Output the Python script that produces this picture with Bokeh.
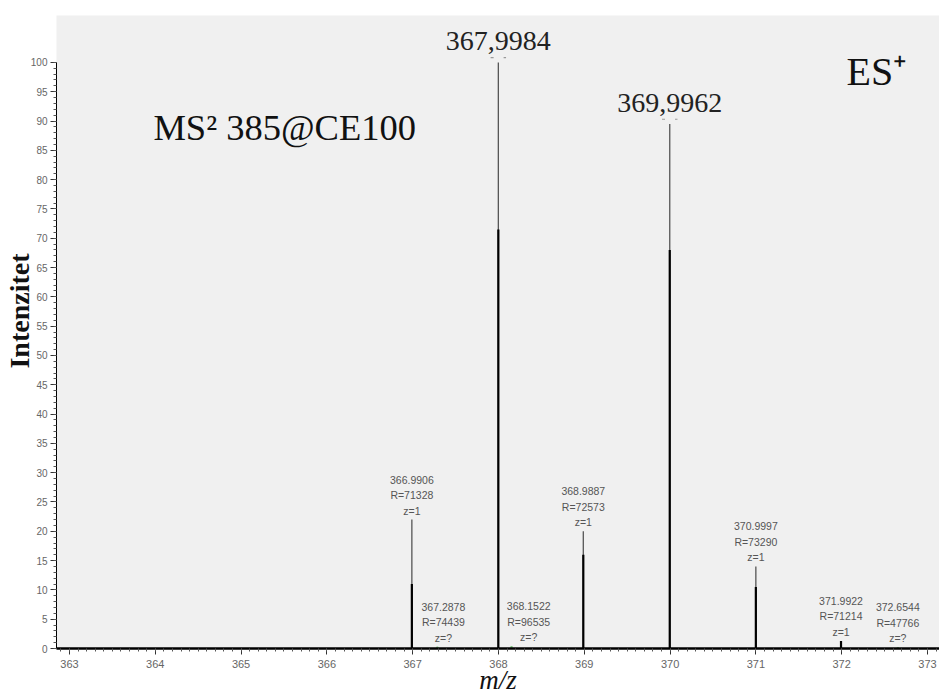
from bokeh.plotting import figure
from bokeh.models import Range1d, SingleIntervalTicker, FixedTicker, ColumnDataSource
from bokeh.core.properties import value
from bokeh.embed import file_html
from bokeh.resources import INLINE

# ---------------- data ----------------
major_mz = [367.9984, 369.9962]
major_int = [100.0, 89.5]
major_profile = [71.5, 68.0]
major_labels = ["367,9984", "369,9962"]

ann_mz = [366.9906, 367.2878, 368.1522, 368.9887, 370.9997, 371.9922, 372.6544]
ann_int = [22.0, 0.3, 0.4, 20.0, 14.0, 1.3, 0.2]
ann_profile = [11.0, 0.3, 0.4, 16.0, 10.5, 1.3, 0.2]
ann_labels = ["366.9906", "367.2878", "368.1522", "368.9887", "370.9997", "371.9922", "372.6544"]
ann_R = [71328, 74439, 96535, 72573, 73290, 71214, 47766]
ann_z = ["1", "?", "?", "1", "1", "1", "?"]

y_major_ticks = list(range(0, 101, 5))
y_minor_ticks = list(range(0, 101, 1))

# ---------------- layout / style ----------------
ann_label_dx = [0, 0.07, 0.2, 0, 0, 0, 0]   # label shift (m/z units) to avoid overlapping lines
W, H = 939, 697
X0, X1 = 362.849, 373.14
Y0, Y1 = 0.0, 108.0
FRAME_L, FRAME_T, FRAME_B = 55, 15, 648


def px_x(px):
    return X0 + (px - FRAME_L) * (X1 - X0) / (W - FRAME_L)


def px_y(py):
    return Y0 + (FRAME_B - py) * (Y1 - Y0) / (FRAME_B - FRAME_T)


p = figure(width=W, height=H, output_backend="svg", toolbar_location=None,
           x_range=Range1d(X0, X1), y_range=Range1d(Y0, Y1),
           min_border_left=FRAME_L, min_border_right=0,
           min_border_top=FRAME_T, min_border_bottom=H - FRAME_B)
p.background_fill_color = "#f0f0f0"
p.border_fill_color = "white"
p.outline_line_color = None
p.xgrid.visible = False
p.ygrid.visible = False

p.xaxis.ticker = SingleIntervalTicker(interval=1, num_minor_ticks=10)
p.yaxis.ticker = FixedTicker(ticks=y_major_ticks, minor_ticks=y_minor_ticks)
p.yaxis.bounds = (0, 100)
for ax in (p.xaxis[0], p.yaxis[0]):
    ax.axis_line_color = "black"
    ax.major_tick_line_color = "#333333"
    ax.minor_tick_line_color = "#555555"
    ax.major_tick_out = 6
    ax.major_tick_in = 0
    ax.minor_tick_out = 3
    ax.minor_tick_in = 0
    ax.major_label_text_font = "Liberation Sans"
    ax.major_label_text_color = "#666666"
    ax.axis_label_text_font = "Liberation Serif"
    ax.axis_label_text_color = "#111111"
p.xaxis.axis_line_width = 2.5
p.xaxis.major_label_text_font_size = "11px"
p.xaxis.major_label_standoff = 5
p.yaxis.major_label_text_font_size = "10px"
p.yaxis.major_label_standoff = 3

p.xaxis.axis_label = "m/z"
p.xaxis.axis_label_text_font_style = "italic"
p.xaxis.axis_label_text_font_size = "27px"
p.xaxis.axis_label_standoff = -6
# leading no-break spaces move the (centred, bottom-to-top) title up, as in the original
p.yaxis.axis_label = "\u00a0" * 6 + "Intenzitet"
p.yaxis.axis_label_text_font_style = "bold"
p.yaxis.axis_label_text_font_size = "28px"
p.yaxis.axis_label_standoff = -7

# ---------------- peaks ----------------
peak_color = ["#7cc47c" if z == "?" else "#555555" for z in ann_z]
prof_color = ["#7cc47c" if z == "?" else "black" for z in ann_z]
asrc = ColumnDataSource(dict(x=ann_mz, top=ann_int, prof=ann_profile, zero=[0.0] * len(ann_mz),
                             xt=[m + d for m, d in zip(ann_mz, ann_label_dx)],
                             c=peak_color, pc=prof_color, mz=ann_labels,
                             r=["R=%d" % r for r in ann_R], z=["z=" + z for z in ann_z]))
msrc = ColumnDataSource(dict(x=major_mz, top=major_int, prof=major_profile, zero=[0.0] * len(major_mz),
                             lab=major_labels,
                             xl=[m - 0.09 for m in major_mz], xr=[m + 0.09 for m in major_mz],
                             ym=[v + 0.8 for v in major_int]))

p.segment(x0="x", y0="zero", x1="x", y1="top", line_color="#555555", line_width=1.3, source=msrc)
p.segment(x0="x", y0="zero", x1="x", y1="prof", line_color="black", line_width=2.2, source=msrc)
p.segment(x0="xl", y0="ym", x1="xr", y1="ym", line_color="#999999", line_width=1.2,
          line_dash="3 10", source=msrc)
p.segment(x0="x", y0="zero", x1="x", y1="top", line_color="c", line_width=1.3, source=asrc)
p.segment(x0="x", y0="zero", x1="x", y1="prof", line_color="pc", line_width=2.2, source=asrc)

# peak annotations
for col, off in (("z", -9), ("r", -24.5), ("mz", -40)):
    p.text(x="xt", y="top", text=col, y_offset=off, text_align="center", text_baseline="middle",
           text_font=value("Liberation Sans"), text_font_size="10.5px", text_color="#555555",
           source=asrc)

p.text(x="x", y="top", text="lab", y_offset=-21, text_align="center", text_baseline="alphabetic",
       text_font=value("Liberation Serif"), text_font_size="28px", text_color="#222222", source=msrc)

# ---------------- in-plot titles ----------------
p.text(x=[px_x(152)], y=[px_y(127)], text=["MS² 385@CE100"], text_font=value("Liberation Serif"),
       text_font_size="36.5px", text_color="#111111", text_align="left", text_baseline="alphabetic")
p.text(x=[px_x(846)], y=[px_y(71)], text=["ES⁺"], text_font=value("Liberation Serif"),
       text_font_size="40px", text_color="#111111", text_align="left", text_baseline="alphabetic")

open("out.html", "w").write(file_html(p, INLINE))
